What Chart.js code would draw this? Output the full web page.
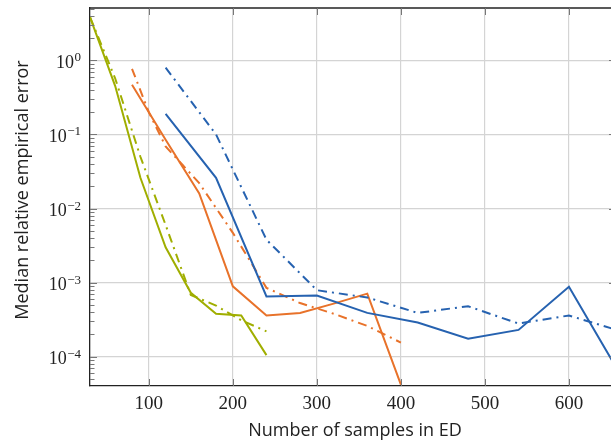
<!DOCTYPE html>
<html>
<head>
<meta charset="utf-8">
<script src="https://cdn.jsdelivr.net/npm/chart.js@4"></script>
<style>
  html, body { margin: 0; padding: 0; background: #fff; overflow: hidden; }
  #wrap { width: 611px; height: 443px; overflow: hidden; }
</style>
</head>
<body>
<div id="wrap"><canvas id="chart" width="640" height="443"></canvas></div>
<script>
// sample sizes per method
const xGreen = [30, 60, 90, 120, 150, 180, 210, 240];
const xOrange = [80, 120, 160, 200, 240, 280, 320, 360, 400];
const xOrangeDash = [80, 100, 120, 140, 160, 200, 240, 280, 320, 360, 400];
const xBlue = [120, 180, 240, 300, 360, 420, 480, 540, 600, 660];

// median relative errors
const greenSolid = [3.85, 0.45, 0.026, 0.003, 7.3e-4, 3.8e-4, 3.6e-4, 1.05e-4];
const greenDash = [3.85, 0.57, 0.05, 0.006, 6.8e-4, 4.9e-4, 3.1e-4, 2.2e-4];
const orangeSolid = [0.47, 0.085, 0.016, 8.9e-4, 3.6e-4, 3.9e-4, 5.2e-4, 7.1e-4, 4.2e-5];
const orangeDash = [0.77, 0.2, 0.069, 0.039, 0.022, 0.0047, 8.5e-4, 5.3e-4, 3.8e-4, 2.6e-4, 1.55e-4];
const blueSolid = [0.19, 0.026, 6.5e-4, 6.7e-4, 3.9e-4, 2.9e-4, 1.75e-4, 2.3e-4, 8.8e-4, 6.0e-5];
const blueDash = [0.8, 0.1, 0.0038, 7.9e-4, 6.3e-4, 3.9e-4, 4.8e-4, 2.8e-4, 3.6e-4, 2.24e-4];

const xTicks = [100, 200, 300, 400, 500, 600];
const yTicks = [1e-4, 1e-3, 1e-2, 1e-1, 1];

const BLUE = '#2662b0';
const ORANGE = '#e8722a';
const GREEN = '#a0ae00';
const DASHDOT = [9, 5, 2, 5];

const pts = (xs, ys) => xs.map((x, i) => ({ x, y: ys[i] }));

const series = (data, color, dashed) => ({
  data,
  borderColor: color,
  backgroundColor: color,
  borderWidth: 2,
  borderDash: dashed ? DASHDOT : [],
  pointRadius: 0,
  tension: 0,
  fill: false
});

const serif = '"Liberation Serif", "DejaVu Serif", serif';
const sans = '"Open Sans", "Noto Sans", sans-serif';

// top frame, inner ticks and all labels
const axisDecor = {
  id: 'axisDecor',
  afterDraw(chart) {
    const { ctx, chartArea: a, scales: { x, y } } = chart;
    ctx.save();

    ctx.strokeStyle = '#222';
    ctx.lineWidth = 1.3;
    ctx.beginPath();
    ctx.moveTo(a.left, a.top);
    ctx.lineTo(a.right, a.top);
    ctx.stroke();

    ctx.strokeStyle = '#777';
    ctx.lineWidth = 1;
    ctx.beginPath();
    xTicks.forEach(v => {
      const px = Math.round(x.getPixelForValue(v)) + 0.5;
      ctx.moveTo(px, a.bottom); ctx.lineTo(px, a.bottom - 7);
      ctx.moveTo(px, a.top); ctx.lineTo(px, a.top + 7);
    });
    for (let e = -5; e <= 1; e++) {
      for (let m = 1; m <= 9; m++) {
        const v = m * Math.pow(10, e);
        if (v < y.min || v > y.max) continue;
        const py = Math.round(y.getPixelForValue(v)) + 0.5;
        ctx.moveTo(a.left, py); ctx.lineTo(a.left + (m === 1 ? 7 : 4.5), py);
        if (m === 1) { ctx.moveTo(a.right, py); ctx.lineTo(a.right - 7, py); }
      }
    }
    ctx.stroke();

    ctx.fillStyle = '#222';
    ctx.textBaseline = 'alphabetic';

    ctx.textAlign = 'center';
    ctx.font = '19px ' + serif;
    xTicks.forEach(v => {
      ctx.fillText(String(v), x.getPixelForValue(v), a.bottom + 22.5);
    });

    ctx.textAlign = 'right';
    yTicks.forEach(v => {
      const py = y.getPixelForValue(v);
      const exp = String(Math.round(Math.log10(v))).replace('-', '\u2212');
      const right = a.left - 9;
      ctx.font = '13px ' + serif;
      const ew = ctx.measureText(exp).width;
      ctx.fillText(exp, right, py + 1);
      ctx.font = '18px ' + serif;
      ctx.fillText('10', right - ew - 0.5, py + 7.6);
    });

    ctx.font = '18px ' + sans;
    ctx.textAlign = 'center';
    ctx.fillText('Number of samples in ED', 355, 436);

    ctx.translate(27.5, 190);
    ctx.rotate(-Math.PI / 2);
    ctx.fillText('Median relative empirical error', 0, 0);

    ctx.restore();
  }
};

new Chart(document.getElementById('chart'), {
  type: 'line',
  data: {
    datasets: [
      series(pts(xBlue, blueDash), BLUE, true),
      series(pts(xBlue, blueSolid), BLUE, false),
      series(pts(xOrangeDash, orangeDash), ORANGE, true),
      series(pts(xOrange, orangeSolid), ORANGE, false),
      series(pts(xGreen, greenDash), GREEN, true),
      series(pts(xGreen, greenSolid), GREEN, false)
    ]
  },
  options: {
    responsive: false,
    animation: false,
    events: [],
    layout: { padding: { left: 90, top: 8, right: 24, bottom: 57 } },
    plugins: {
      legend: { display: false },
      tooltip: { enabled: false }
    },
    scales: {
      x: {
        type: 'linear',
        min: 30,
        max: 656,
        afterBuildTicks: s => { s.ticks = xTicks.map(v => ({ value: v })); },
        ticks: { display: false },
        grid: { color: '#d4d4d4', lineWidth: 1.2, drawTicks: false },
        border: { color: '#222', width: 1.3 }
      },
      y: {
        type: 'logarithmic',
        min: 4.02e-5,
        max: 5.1,
        afterBuildTicks: s => { s.ticks = yTicks.map(v => ({ value: v })); },
        ticks: { display: false },
        grid: { color: '#d4d4d4', lineWidth: 1.2, drawTicks: false },
        border: { color: '#222', width: 1.3 }
      }
    }
  },
  plugins: [axisDecor]
});
</script>
</body>
</html>
